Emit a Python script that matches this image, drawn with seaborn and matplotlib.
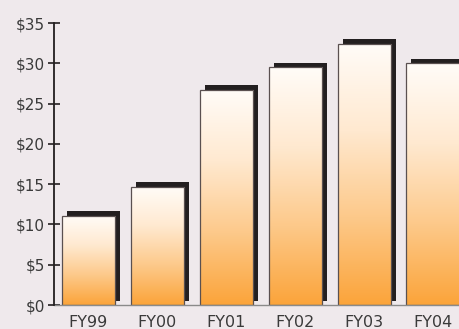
import numpy as np
import matplotlib
matplotlib.use("Agg")
import matplotlib.pyplot as plt
import matplotlib.transforms as mtrans
import seaborn as sns

categories = ["FY99", "FY00", "FY01", "FY02", "FY03", "FY04"]
values = [11.05, 14.7, 26.7, 29.5, 32.4, 30.0]
yticks = [0, 5, 10, 15, 20, 25, 30, 35]
ytick_labels = ["$0", "$5", "$10", "$15", "$20", "$25", "$30", "$35"]

bg = "#efe9ec"
shadow_col = "#231f20"

sns.set_theme(style="white")
plt.rcParams['font.family'] = ['DejaVu Sans']

fig = plt.figure(figsize=(4.59, 3.29), dpi=100, facecolor=bg)
W, H = 459, 329
ax = fig.add_axes([53.5 / W, (H - 305) / H, (W - 53.5) / W, (305 - 23) / H])
ax.set_facecolor(bg)

bw = 0.77
# shadow bars
sns.barplot(x=categories, y=values, color=shadow_col, width=bw, ax=ax,
            saturation=1, linewidth=0)
shift = mtrans.ScaledTranslation(5 / 100, 4.5 / 100, fig.dpi_scale_trans)
for p in ax.patches:
    p.set_transform(ax.transData + shift)
    p.set_facecolor(shadow_col)
n_shadow = len(ax.patches)

# main bars
sns.barplot(x=categories, y=values, color="#fba43a", width=bw, ax=ax,
            saturation=1, linewidth=0.9, edgecolor="#5a5050")
main = ax.patches[n_shadow:]

cmap = matplotlib.colors.LinearSegmentedColormap.from_list(
    "g", ["#fba43a", "#fdc98a", "#ffe9d0", "#fffcf8"])
grad = np.linspace(0, 1, 256).reshape(-1, 1)
for p in main:
    x0 = p.get_x()
    w, h = p.get_width(), p.get_height()
    im = ax.imshow(grad, cmap=cmap, origin="lower", aspect="auto",
                   extent=[x0, x0 + w, 0, h], zorder=p.get_zorder() + 0.01)
    im.set_clip_path(p)
    p.set_facecolor("none")
    p.set_zorder(p.get_zorder() + 0.05)

ax.set_xlim(-0.507, 5.377)
ax.set_ylim(0, 35)
ax.set_yticks(yticks)
ax.set_yticklabels(ytick_labels)
ax.tick_params(axis="y", which="both", left=True, direction="inout", length=8,
               width=1.2, color="#231f20", pad=2, labelsize=11, labelcolor="#3a3a3a")
ax.tick_params(axis="x", bottom=False, pad=1.5, labelsize=11.5, labelcolor="#3a3a3a")
for s in ["top", "right"]:
    ax.spines[s].set_visible(False)
ax.spines["left"].set_color("#231f20")
ax.spines["left"].set_linewidth(1.3)
ax.spines["left"].set_zorder(5)
ax.spines["bottom"].set_color("#8a8a8a")
ax.spines["bottom"].set_linewidth(1.0)
ax.set_xlabel("")
ax.set_ylabel("")

fig.savefig("out.png", dpi=100, facecolor=bg)
